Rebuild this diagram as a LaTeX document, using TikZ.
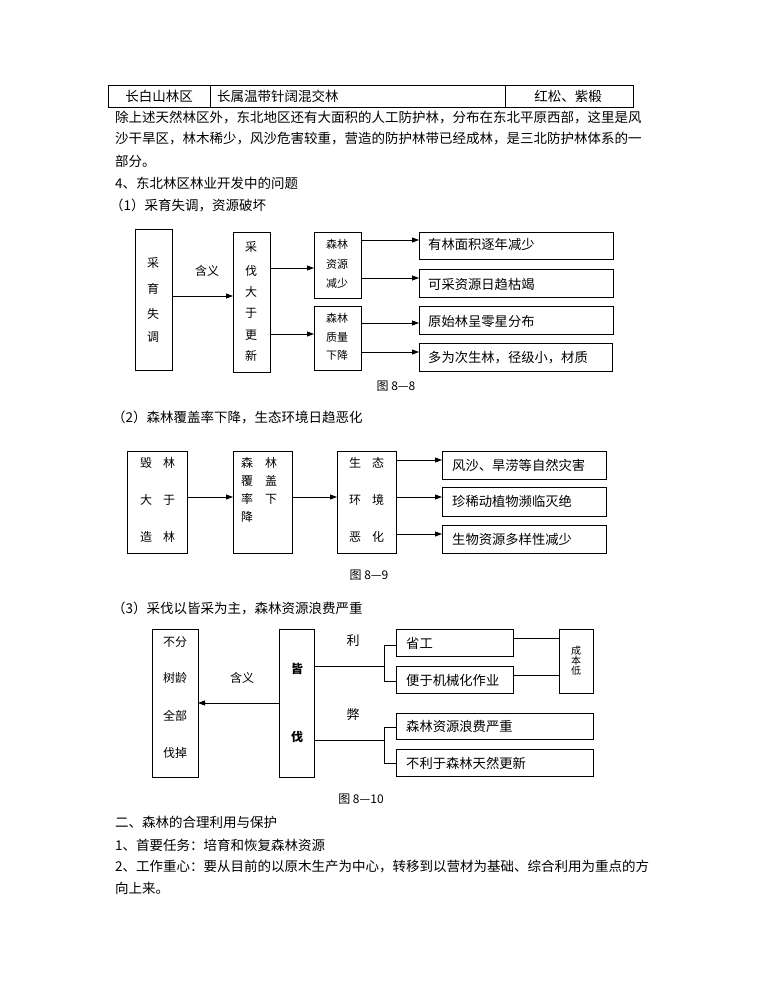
\documentclass[tikz,border=0pt]{standalone}
\usepackage{fontspec}
\setmainfont{Noto Sans CJK SC}
\usetikzlibrary{arrows.meta}
\begin{document}
\begin{tikzpicture}[x=1pt,y=-1pt,
  box/.style={draw, line width=0.8pt, inner sep=0pt, outer sep=0pt, anchor=north west},
  arr/.style={-{Triangle[length=7pt,width=5pt]}, line width=0.8pt},
  ln/.style={line width=0.8pt},
  body/.style={font=\fontsize{13.5}{16}\selectfont, anchor=west, inner sep=0pt},
  dt/.style={font=\fontsize{13.3}{15}\selectfont, anchor=west, inner sep=0pt},
  mt/.style={font=\fontsize{12}{14}\selectfont, inner sep=0pt},
  st/.style={font=\fontsize{11}{13}\selectfont, inner sep=0pt},
  captxt/.style={font=\fontsize{12}{14}\selectfont, inner sep=0pt}]
\useasboundingbox (0,0) rectangle (770,1000);
\fill[white] (0,0) rectangle (770,1000);

% ---- top table row ----
\draw[ln] (108,85) rectangle (633,107);
\draw[ln] (210,85) -- (210,107);
\draw[ln] (505,85) -- (505,107);
\node[body,anchor=center] (t1) at (159,96) {长白山林区};
\node[body] (t2) at (217,96) {长属温带针阔混交林};
\node[body,anchor=center] (t3) at (568,96) {红松、紫椴};

% ---- paragraph ----
\node[body] (p1) at (115,117) {除上述天然林区外，东北地区还有大面积的人工防护林，分布在东北平原西部，这里是风};
\node[body] (p2) at (115,139) {沙干旱区，林木稀少，风沙危害较重，营造的防护林带已经成林，是三北防护林体系的一};
\node[body] (p3) at (115,161) {部分。};
\node[body] (p4) at (115,183) {4、东北林区林业开发中的问题};
\node[body] (p5) at (110,205) {（1）采育失调，资源破坏};

% ---- figure 8-8 ----
\node[box,minimum width=37pt,minimum height=141pt] (a1) at (135,229) {};
\node[mt] at (153,263) {采};
\node[mt] at (153,289) {育};
\node[mt] at (153,314) {失};
\node[mt] at (153,337) {调};
\node[box,minimum width=37pt,minimum height=140pt] (a2) at (233,232) {};
\node[mt] at (251,247) {采};
\node[mt] at (251,271) {伐};
\node[mt] at (251,292) {大};
\node[mt] at (251,313) {于};
\node[mt] at (251,335) {更};
\node[mt] at (251,356) {新};
\node[mt] (hy1) at (207,271) {含义};
\node[box,minimum width=47pt,minimum height=66pt] (a3) at (314,232) {};
\node[st] at (337,244) {森林};
\node[st] at (337,264) {资源};
\node[st] at (337,283) {减少};
\node[box,minimum width=47pt,minimum height=64pt] (a4) at (314,306) {};
\node[st] at (337,318) {森林};
\node[st] at (337,337) {质量};
\node[st] at (337,355) {下降};
\node[box,minimum width=194pt,minimum height=27pt] (r1) at (419,232) {};
\node[dt] at (428,244) {有林面积逐年减少};
\node[box,minimum width=194pt,minimum height=28pt] (r2) at (419,269) {};
\node[dt] at (428,284) {可采资源日趋枯竭};
\node[box,minimum width=194pt,minimum height=28pt] (r3) at (419,306) {};
\node[dt] at (428,321) {原始林呈零星分布};
\node[box,minimum width=193pt,minimum height=28pt] (r4) at (419,343) {};
\node[dt] at (428,358) {多为次生林，径级小，材质};
\draw[arr] (a1.east |- 0,296) -- (a2.west |- 0,296);
\draw[arr] (a2.east |- 0,268) -- (a3.west |- 0,268);
\draw[arr] (a2.east |- 0,334) -- (a4.west |- 0,334);
\draw[arr] (a3.east |- 0,240) -- (r1.west |- 0,240);
\draw[arr] (a3.east |- 0,278) -- (r2.west |- 0,278);
\draw[arr] (a4.east |- 0,323) -- (r3.west |- 0,323);
\draw[arr] (a4.east |- 0,352) -- (r4.west |- 0,352);
\node[captxt] (c88) at (396,386) {图 8—8};

% ---- figure 8-9 ----
\node[body] (h2) at (112,417) {（2）森林覆盖率下降，生态环境日趋恶化};
\node[box,minimum width=60pt,minimum height=102pt] (b1) at (127,451) {};
\node[mt] at (146,463) {毁}; \node[mt] at (169,463) {林};
\node[mt] at (146,500) {大}; \node[mt] at (169,500) {于};
\node[mt] at (146,537) {造}; \node[mt] at (169,537) {林};
\node[box,minimum width=59pt,minimum height=102pt] (b2) at (233,451) {};
\node[mt] at (247,463) {森}; \node[mt] at (271,463) {林};
\node[mt] at (247,481) {覆}; \node[mt] at (271,481) {盖};
\node[mt] at (247,499) {率}; \node[mt] at (271,499) {下};
\node[mt] at (247,517) {降};
\node[box,minimum width=59pt,minimum height=102pt] (b3) at (337,451) {};
\node[mt] at (355,463) {生}; \node[mt] at (378,463) {态};
\node[mt] at (355,500) {环}; \node[mt] at (378,500) {境};
\node[mt] at (355,537) {恶}; \node[mt] at (378,537) {化};
\node[box,minimum width=164pt,minimum height=28pt] (s1) at (442,451) {};
\node[dt] at (452,465) {风沙、旱涝等自然灾害};
\node[box,minimum width=164pt,minimum height=29pt] (s2) at (442,487) {};
\node[dt] at (452,501) {珍稀动植物濒临灭绝};
\node[box,minimum width=164pt,minimum height=28pt] (s3) at (442,525) {};
\node[dt] at (452,539) {生物资源多样性减少};
\draw[arr] (b1.east |- 0,497) -- (b2.west |- 0,497);
\draw[arr] (b2.east |- 0,497) -- (b3.west |- 0,497);
\draw[arr] (b3.east |- 0,460) -- (s1.west |- 0,460);
\draw[arr] (b3.east |- 0,497) -- (s2.west |- 0,497);
\draw[arr] (b3.east |- 0,534) -- (s3.west |- 0,534);
\node[captxt] (c89) at (369,575) {图 8—9};

% ---- figure 8-10 ----
\node[body] (h3) at (112,608) {（3）采伐以皆采为主，森林资源浪费严重};
\node[box,minimum width=46pt,minimum height=148pt] (c1) at (152,629) {};
\node[mt] at (175,642) {不分};
\node[mt] at (175,678) {树龄};
\node[mt] at (175,716) {全部};
\node[mt] at (175,753) {伐掉};
\node[box,minimum width=35pt,minimum height=148pt] (c2) at (279,629) {};
\node[mt,font=\fontsize{12}{14}\selectfont\bfseries] at (297,669) {皆};
\node[mt,font=\fontsize{12}{14}\selectfont\bfseries] at (297,737) {伐};
\draw[arr] (c2.west |- 0,703) -- (c1.east |- 0,703);
\node[mt] (hy2) at (242,678) {含义};
\node[mt,font=\fontsize{13}{15}\selectfont] (li) at (353,641) {利};
\node[mt,font=\fontsize{13}{15}\selectfont] (bi) at (353,715) {弊};
\node[box,minimum width=117pt,minimum height=27pt] (d1) at (396,629) {};
\node[dt] at (406,643) {省工};
\node[box,minimum width=117pt,minimum height=27pt] (d2) at (396,666) {};
\node[dt] at (406,680) {便于机械化作业};
\node[box,minimum width=34pt,minimum height=64pt] (e1) at (559,629) {};
\node[font=\fontsize{10}{10}\selectfont, inner sep=0pt] at (576,651) {成};
\node[font=\fontsize{10}{10}\selectfont, inner sep=0pt] at (576,661) {本};
\node[font=\fontsize{10}{10}\selectfont, inner sep=0pt] at (576,671) {低};
\node[box,minimum width=197pt,minimum height=26pt] (d3) at (396,713) {};
\node[dt] at (406,726) {森林资源浪费严重};
\node[box,minimum width=197pt,minimum height=27pt] (d4) at (396,749) {};
\node[dt] at (406,763) {不利于森林天然更新};
\coordinate (j1) at (384,666);
\coordinate (j2) at (384,740);
\draw[ln] (c2.east |- j1) -- (j1);
\draw[ln] (d1.west |- 0,645) -- (384,645) -- (384,681) -- (d2.west |- 0,681);
\draw[ln] (c2.east |- j2) -- (j2);
\draw[ln] (d3.west |- 0,727) -- (384,727) -- (384,763) -- (d4.west |- 0,763);
\draw[ln] (d1.east |- 0,638) -- (e1.west |- 0,638);
\draw[ln] (d2.east |- 0,675) -- (e1.west |- 0,675);
\node[captxt] (c810) at (361,799) {图 8—10};

% ---- closing text ----
\node[body] (q1) at (115,822) {二、森林的合理利用与保护};
\node[body] (q2) at (115,845) {1、首要任务：培育和恢复森林资源};
\node[body] (q3) at (115,867) {2、工作重心：要从目前的以原木生产为中心，转移到以营材为基础、综合利用为重点的方};
\node[body] (q4) at (115,888) {向上来。};
\end{tikzpicture}
\end{document}
